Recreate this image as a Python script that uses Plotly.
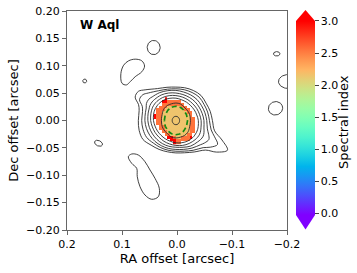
import math
import plotly.graph_objects as go

# ------------------------------------------------------------------ data
# Nested contour rings around the star, polar description about ring_center
ring_center = [0.002, 0.0]          # RA, Dec offset [arcsec]
ring_angles = [0, 15, 30, 45, 60, 75, 90, 105, 120, 135, 142, 150, 157, 165,
               180, 195, 210, 225, 240, 255, 270, 285, 300, 315, 322, 330, 337, 345]  # deg (0 = west/right, 90 = north)
ring1_mas = [6.7, 6.8, 6.9, 7.2, 7.4, 7.6, 7.6, 7.6, 7.4, 7.2, 7.0, 6.9, 6.8, 6.8,
             6.7, 6.8, 6.9, 7.2, 7.4, 7.6, 7.6, 7.6, 7.4, 7.2, 7.0, 6.9, 6.8, 6.8]
ring2_mas = [26.4, 26.7, 27.5, 27.8, 29.0, 31.3, 31.9, 31.5, 31.5, 30.5, 29.5, 28.2, 27.2, 26.7,
             26.4, 26.7, 27.5, 27.8, 29.0, 31.3, 31.9, 31.5, 31.5, 30.5, 29.5, 28.2, 27.2, 26.7]
ring3_mas = [40.8, 39.3, 38.6, 38.2, 38.6, 39.3, 40.8, 42.0, 43.3, 43.7, 43.5, 43.3, 42.8, 42.0,
             40.8, 39.3, 38.6, 38.2, 38.6, 39.3, 40.8, 42.0, 43.3, 43.7, 43.5, 43.3, 42.8, 42.0]
ring4_mas = [45.9, 44.4, 43.7, 43.3, 43.7, 44.4, 45.5, 47.0, 48.4, 49.1, 49.1, 48.8, 47.9, 47.1,
             45.9, 44.4, 43.7, 43.3, 43.7, 44.4, 45.5, 47.1, 48.4, 49.5, 49.9, 49.9, 48.8, 47.3]
ring5_mas = [51.0, 49.5, 48.8, 48.8, 48.8, 49.1, 50.2, 51.9, 53.7, 54.6, 55.0, 54.6, 53.1, 52.2,
             51.0, 49.9, 49.1, 48.8, 48.8, 48.8, 48.8, 50.6, 53.9, 55.5, 56.8, 57.3, 55.5, 52.8]
ring6_mas = [56.1, 54.6, 53.9, 54.2, 53.9, 53.9, 55.0, 56.4, 58.8, 61.0, 62.8, 61.9, 58.6, 57.3,
             56.4, 55.5, 54.6, 53.9, 53.1, 52.8, 52.8, 54.6, 58.2, 62.8, 66.4, 69.2, 64.6, 59.2]
ring7_mas = [61.0, 59.7, 59.0, 60.1, 59.0, 58.2, 57.9, 59.2, 62.8, 71.0, 76.4, 76.4, 66.4, 62.8,
             62.2, 61.9, 61.5, 58.2, 56.8, 56.1, 56.1, 57.9, 62.8, 70.1, 79.2, 87.4, 76.4, 66.4]
ring8_mas = [66.4, 64.6, 63.3, 64.6, 63.3, 61.9, 61.0, 62.8, 67.3, 79.2, 86.5, 85.5, 73.7, 69.2,
             68.3, 69.2, 69.2, 63.7, 61.0, 59.2, 59.2, 61.0, 66.4, 76.4, 93.7, 108.3, 91.0, 72.8]

# Irregular isolated contour islands [arcsec]
blobA_ra = [0.100, 0.102, 0.097, 0.088, 0.076, 0.064, 0.059, 0.064, 0.076, 0.085, 0.092]
blobA_dec = [0.068, 0.086, 0.101, 0.109, 0.112, 0.109, 0.0995, 0.089, 0.080, 0.071, 0.065]
blobE_ra = [0.0885, 0.0824, 0.0704, 0.0582, 0.0491, 0.040, 0.0322, 0.034, 0.046, 0.0582,
            0.0673, 0.0722, 0.0733, 0.0824]
blobE_dec = [-0.0661, -0.0612, -0.063, -0.0753, -0.0904, -0.1056, -0.1238, -0.1392, -0.1439,
             -0.1361, -0.1209, -0.1027, -0.0873, -0.0782]

# Small elliptical contour islands: centre, semi-axes [arcsec], tilt [deg]
isl_ra = [0.0424, 0.1678, 0.1427, -0.1813, -0.2027, -0.1791]
isl_dec = [0.1333, 0.0721, -0.0416, 0.1218, 0.0712, 0.0223]
isl_a = [0.0118, 0.0036, 0.0077, 0.0060, 0.0182, 0.0131]
isl_b = [0.0130, 0.0036, 0.0049, 0.0040, 0.0128, 0.0122]
isl_tilt = [0, 0, -25, 0, 0, 20]

# Green dashed ellipse
green_center = [0.002, 0.0]
green_semi = [0.021, 0.026]

# Spectral-index map (pixels), rows north->south, columns east->west
pix_ra = [0.040, 0.035, 0.030, 0.025, 0.020, 0.015, 0.010, 0.005, 0.000,
          -0.005, -0.010, -0.015, -0.020, -0.025, -0.030, -0.035, -0.040]
pix_dec = [0.040, 0.035, 0.030, 0.025, 0.020, 0.015, 0.010, 0.005, 0.000,
           -0.005, -0.010, -0.015, -0.020, -0.025, -0.030, -0.035, -0.040]
pix_codes = {".": None, "t": 2.15, "o": 2.55, "r": 3.2}
pix_rows = [
    "...." "r" "............",
    "..." "rr" "ooooo" ".......",
    "..." "oooooooo" "......",
    ".." "ooo" "ttttt" "oo" ".....",
    "." "ooo" "ttttttt" "oo" "....",
    "." "oo" "ttttttttt" "oo" "...",
    "r" "oo" "tttttttttt" "o" "...",
    "r" "oo" "tttttttttt" "oo" "..",
    "." "oo" "tttttttttt" "oo" "..",
    "." "oo" "tttttttttt" "oo" "..",
    ".." "oo" "ttttttttt" "oo" "..",
    ".." "oo" "ttttttttt" "oo" "..",
    "..." "oo" "tttttttt" "oo" "..",
    "...." "oo" "tttttt" "oo" "...",
    "....." "rro" "tt" "ooo" "r" "...",
    "......" "rr" "ooooo" "....",
    "......." "r" "oo" ".......",
]

cbar_ticks = [0.0, 0.5, 1.0, 1.5, 2.0, 2.5, 3.0]
x_ticks = [0.2, 0.1, 0.0, -0.1, -0.2]
y_ticks = [0.20, 0.15, 0.10, 0.05, 0.00, -0.05, -0.10, -0.15, -0.20]
target_name = "W Aql"

# ------------------------------------------------------------------ styling helpers
FONT = "DejaVu Sans"


def rainbow(v):
    r = min(1.0, abs(2 * v - 0.5))
    g = min(1.0, max(0.0, math.sin(math.pi * v)))
    b = min(1.0, max(0.0, math.cos(math.pi * v / 2)))
    return "rgb(%d,%d,%d)" % (round(r * 255), round(g * 255), round(b * 255))


colorscale = [[i / 20, rainbow(i / 20)] for i in range(21)]


def fmt(v, nd):
    s = ("%." + str(nd) + "f") % v
    if s.startswith("-"):
        s = "\u2212" + s[1:]
    if s.replace("\u2212", "").strip("0.") == "":
        s = s.replace("\u2212", "")
    return s


# ------------------------------------------------------------------ figure
fig = go.Figure()

z = []
for row in pix_rows:
    assert len(row) == 17, row
    z.append([pix_codes[c] for c in row])
z_inc = [r[::-1] for r in z][::-1]

fig.add_trace(go.Heatmap(
    x=pix_ra[::-1], y=pix_dec[::-1], z=z_inc,
    zmin=-0.03, zmax=3.0, colorscale=colorscale, zsmooth=False,
    hoverongaps=False,
    colorbar=dict(
        thickness=19, thicknessmode="pixels",
        len=194, lenmode="pixels",
        x=1.0409, xanchor="left", xpad=0,
        y=0.0685, yanchor="bottom", ypad=0,
        outlinewidth=0,
        tickvals=cbar_ticks, ticktext=[fmt(v, 1) for v in cbar_ticks],
        ticks="outside", ticklen=4, tickwidth=1, tickcolor="#444",
        tickfont=dict(family=FONT, size=11, color="black"),
    ),
))

LINE = dict(color="#2b2b2b", width=0.9)

rings = [ring1_mas, ring2_mas, ring3_mas, ring4_mas, ring5_mas, ring6_mas, ring7_mas, ring8_mas]
for radii in rings:
    xs, ys = [], []
    for a, r in zip(ring_angles, radii):
        t = math.radians(a)
        xs.append(ring_center[0] - r / 1000.0 * math.cos(t))
        ys.append(ring_center[1] + r / 1000.0 * math.sin(t))
    xs.append(xs[0]); ys.append(ys[0])
    fig.add_trace(go.Scatter(x=xs, y=ys, mode="lines", line=dict(shape="spline", smoothing=1.0, **LINE),
                             hoverinfo="skip", showlegend=False))

for bx, by in [(blobA_ra, blobA_dec), (blobE_ra, blobE_dec)]:
    fig.add_trace(go.Scatter(x=bx + bx[:1], y=by + by[:1], mode="lines",
                             line=dict(shape="spline", smoothing=1.0, **LINE),
                             hoverinfo="skip", showlegend=False))

for cx, cy, a, b, tilt in zip(isl_ra, isl_dec, isl_a, isl_b, isl_tilt):
    tr = math.radians(tilt)
    xs, ys = [], []
    for k in range(61):
        t = 2 * math.pi * k / 60
        u, v = a * math.cos(t), b * math.sin(t)
        xs.append(cx - (u * math.cos(tr) - v * math.sin(tr)))
        ys.append(cy + (u * math.sin(tr) + v * math.cos(tr)))
    fig.add_trace(go.Scatter(x=xs, y=ys, mode="lines", line=LINE, hoverinfo="skip", showlegend=False))

gx, gy = [], []
for k in range(121):
    t = 2 * math.pi * k / 120
    gx.append(green_center[0] + green_semi[0] * math.cos(t))
    gy.append(green_center[1] + green_semi[1] * math.sin(t))
fig.add_trace(go.Scatter(x=gx, y=gy, mode="lines",
                         line=dict(color="#138a13", width=1.7, dash="5px,3px"),
                         hoverinfo="skip", showlegend=False))

AX = dict(showgrid=False, zeroline=False, showline=True, linecolor="#666", linewidth=1,
          mirror=True, ticks="outside", ticklen=4, tickwidth=1, tickcolor="#666",
          tickfont=dict(family=FONT, size=11, color="black"))

fig.update_layout(
    width=357, height=273,
    margin=dict(l=67, r=70, t=11, b=43, autoexpand=False),
    paper_bgcolor="white", plot_bgcolor="white",
    font=dict(family=FONT, size=11, color="black"),
    showlegend=False,
    xaxis=dict(range=[0.2, -0.2], tickvals=x_ticks, ticktext=[fmt(v, 1) for v in x_ticks],
               title=dict(text="RA offset [arcsec]", font=dict(family=FONT, size=13), standoff=2),
               automargin=False, **AX),
    yaxis=dict(range=[-0.2, 0.2], tickvals=y_ticks, ticktext=[fmt(v, 2) for v in y_ticks],
               title=dict(text="Dec offset [arcsec]", font=dict(family=FONT, size=13), standoff=4),
               automargin=False, **AX),
    annotations=[
        dict(text="<b>%s</b>" % target_name, xref="paper", yref="paper",
             x=0.05, y=0.975, xanchor="left", yanchor="top", showarrow=False,
             font=dict(family=FONT, size=12, color="black")),
        dict(text="Spectral index", xref="paper", yref="paper", textangle=-90,
             x=1.2545, y=0.493, xanchor="center", yanchor="middle", showarrow=False,
             font=dict(family=FONT, size=13, color="black")),
    ],
    shapes=[
        dict(type="path", xref="paper", yref="paper",
             path="M 1.0409,0.9543 L 1.1273,0.9543 L 1.0841,1.0046 Z",
             fillcolor="rgb(255,0,0)", line=dict(width=0)),
        dict(type="path", xref="paper", yref="paper",
             path="M 1.0409,0.0685 L 1.1273,0.0685 L 1.0841,0.0023 Z",
             fillcolor="rgb(128,0,255)", line=dict(width=0)),
        dict(type="line", xref="paper", yref="paper", x0=1.0409, x1=1.1273, y0=0.0763, y1=0.0763,
             line=dict(color="#d9c2ff", width=1)),
    ],
)

fig.write_html("out.html", config={"displayModeBar": False},
               post_script="document.body.style.margin='0';")
